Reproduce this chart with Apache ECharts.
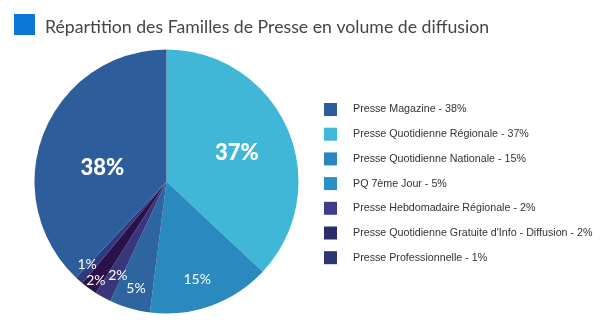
<!DOCTYPE html>
<html>
<head>
<meta charset="utf-8">
<script src="https://cdn.jsdelivr.net/npm/echarts@6/dist/echarts.min.js"></script>
<style>
  html, body { margin: 0; padding: 0; background: #fff; }
  #chart { width: 600px; height: 327px; }
</style>
</head>
<body>
<div id="chart"></div>
<script>
// Slices in clockwise order from 12 o'clock
const categories = [
  "Presse Quotidienne Régionale",
  "Presse Quotidienne Nationale",
  "PQ 7ème Jour",
  "Presse Hebdomadaire Régionale",
  "Presse Quotidienne Gratuite d'Info - Diffusion",
  "Presse Professionnelle",
  "Presse Magazine"
];
const values = [37, 15, 5, 2, 2, 1, 38];
const sliceLabels = ["37%", "15%", "5%", "2%", "2%", "1%", "38%"];

// Legend order and texts
const legendOrder = [
  "Presse Magazine",
  "Presse Quotidienne Régionale",
  "Presse Quotidienne Nationale",
  "PQ 7ème Jour",
  "Presse Hebdomadaire Régionale",
  "Presse Quotidienne Gratuite d'Info - Diffusion",
  "Presse Professionnelle"
];
const legendTexts = [
  "Presse Magazine - 38%",
  "Presse Quotidienne Régionale - 37%",
  "Presse Quotidienne Nationale - 15%",
  "PQ 7ème Jour - 5%",
  "Presse Hebdomadaire Régionale - 2%",
  "Presse Quotidienne Gratuite d'Info - Diffusion - 2%",
  "Presse Professionnelle - 1%"
];

const titleText = "Répartition des Familles de Presse en volume de diffusion";

// Styles
const sliceColors = ["#41b7d7", "#2a89bf", "#2e65a1", "#39377c", "#2b1149", "#2e3a80", "#2d5d9a"];
const legendColors = ["#2d5e9b", "#40b8d8", "#2a87bf", "#2a8fc4", "#3c3e8d", "#2c2d68", "#2e3573"];
const labelRadiusFrac = [0.58, 0.76, 0.83, 0.79, 0.91, 0.86, 0.50];
const labelAngleShift = [0, 2, 0, -1, 0, 3, -8];
const bigLabel = [true, false, false, false, false, false, true];

const CX = 166.5, CY = 181.5, R = 132;

const total = values.reduce((a, b) => a + b, 0);
const cum = [];
values.reduce((acc, v, i) => { cum[i] = acc + v / 2; return acc + v; }, 0);

const chart = echarts.init(document.getElementById('chart'));
chart.setOption({
  animation: false,
  backgroundColor: '#ffffff',
  title: {
    text: titleText,
    left: 40,
    top: 13,
    textStyle: { fontFamily: 'Lato', fontWeight: 'normal', fontSize: 17.7, color: '#454545' }
  },
  graphic: [{
    type: 'rect',
    shape: { x: 14, y: 14, width: 21, height: 21 },
    style: { fill: '#0b78d6' }
  }],
  legend: {
    orient: 'vertical',
    left: 324,
    top: 103,
    padding: 0,
    itemWidth: 13,
    itemHeight: 13,
    itemGap: 11.7,
    icon: 'rect',
    selectedMode: false,
    textStyle: { fontFamily: 'Liberation Sans', fontSize: 10.7, color: '#333', padding: [0, 0, 0, 11] },
    data: legendOrder.map((n, i) => ({ name: n, itemStyle: { color: legendColors[i] } })),
    formatter: name => legendTexts[legendOrder.indexOf(name)]
  },
  series: [{
    type: 'pie',
    center: [CX, CY],
    radius: [0, R],
    startAngle: 90,
    clockwise: true,
    silent: true,
    labelLine: { show: false },
    label: {
      show: true,
      position: 'inside',
      color: '#fff',
      fontFamily: 'Lato',
      formatter: p => sliceLabels[p.dataIndex]
    },
    labelLayout: p => {
      const i = p.dataIndex;
      const a = (cum[i] / total * 360 + labelAngleShift[i]) * Math.PI / 180;
      const r = R * labelRadiusFrac[i];
      return { x: CX + r * Math.sin(a), y: CY - r * Math.cos(a) + 2, align: 'center', verticalAlign: 'middle' };
    },
    data: categories.map((n, i) => ({
      name: n,
      value: values[i],
      itemStyle: { color: sliceColors[i] },
      label: bigLabel[i]
        ? { fontSize: 22, fontWeight: 900 }
        : { fontSize: 14, fontWeight: 'normal' }
    }))
  }]
});
</script>
</body>
</html>
